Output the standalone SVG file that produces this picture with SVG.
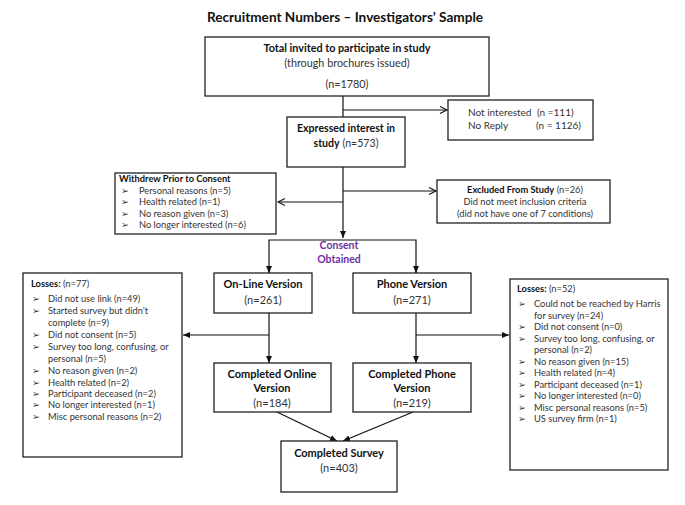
<svg xmlns="http://www.w3.org/2000/svg" width="685" height="505" viewBox="0 0 685 505">
<style>
text{font-family:Lato,"Liberation Sans",sans-serif;fill:#333;font-size:10px}
.b{font-weight:bold;fill:#111}
.t{font-weight:bold;fill:#111;font-size:13.6px}
.c{text-anchor:middle}
.p{font-weight:bold;fill:#7030a0}
.bl{font-family:"DejaVu Sans",sans-serif;font-size:9.5px;fill:#333}
.s{font-size:9.3px}
rect{fill:#fff;stroke:#222;stroke-width:1.3}
.ln{fill:none;stroke:#111;stroke-width:1.2}
</style>
<defs>
<marker id="f" markerWidth="8" markerHeight="8" refX="7" refY="4" orient="auto" markerUnits="userSpaceOnUse"><path d="M0,1 L7,4 L0,7 Z" fill="#111"/></marker>
<marker id="o" markerWidth="10" markerHeight="10" refX="8" refY="4" orient="auto" markerUnits="userSpaceOnUse"><path d="M1,0.5 L8,4 L1,7.5" fill="none" stroke="#111" stroke-width="1.1"/></marker>
</defs>
<rect width="685" height="505" style="fill:#fff;stroke:none"/>
<text class="t c" x="345" y="22">Recruitment Numbers – Investigators’ Sample</text>

<g id="connectors">
<path class="ln" d="M343,96 V117"/>
<path class="ln" d="M343,110 H447" marker-end="url(#o)"/>
<path class="ln" d="M343,167 V238" marker-end="url(#f)"/>
<path class="ln" d="M343,191 H436" marker-end="url(#o)"/>
<path class="ln" d="M343,202 H278" marker-end="url(#o)"/>
<path class="ln" d="M269,273 V240 H416 V273"/>
<path class="ln" d="M269,266 V273" marker-end="url(#f)"/>
<path class="ln" d="M416,266 V273" marker-end="url(#f)"/>
<path class="ln" d="M269,313 V363" marker-end="url(#f)"/>
<path class="ln" d="M416,313 V363" marker-end="url(#f)"/>
<path class="ln" d="M269,335 H183" marker-end="url(#f)"/>
<path class="ln" d="M416,335 H509" marker-end="url(#f)"/>
<path class="ln" d="M277,412 L337,441" marker-end="url(#f)"/>
<path class="ln" d="M413,412 L343,441" marker-end="url(#f)"/>
</g>

<g id="total">
<rect x="205" y="37" width="284" height="59"/>
<text class="b c" x="347" y="52" style="font-size:10.8px">Total invited to participate in study</text>
<text class="c" x="347" y="67" style="font-size:10.8px">(through brochures issued)</text>
<text class="c" x="347" y="88" style="font-size:10.8px">(n=1780)</text>
</g>

<g id="notinterested">
<rect x="448" y="100" width="145" height="40"/>
<text x="468" y="116">Not interested</text><text x="537" y="116">(n =111)</text>
<text x="468" y="129">No Reply</text><text x="536" y="129">(n = 1126)</text>
</g>

<g id="expressed">
<rect x="287" y="117" width="118" height="50"/>
<text class="b c" x="346" y="132" style="font-size:10.6px">Expressed interest in</text>
<text class="c" x="346" y="147" style="font-size:10.6px"><tspan class="b">study</tspan> (n=573)</text>
</g>

<g id="withdrew">
<rect x="115" y="173" width="161" height="61"/>
<text class="b s" x="119" y="182">Withdrew Prior to Consent</text>
<text class="bl" x="121" y="194">➢</text><text class="s" x="139" y="194">Personal reasons (n=5)</text>
<text class="bl" x="121" y="205">➢</text><text class="s" x="139" y="205">Health related (n=1)</text>
<text class="bl" x="121" y="217">➢</text><text class="s" x="139" y="217">No reason given (n=3)</text>
<text class="bl" x="121" y="228">➢</text><text class="s" x="139" y="228">No longer interested (n=6)</text>
</g>

<g id="excluded">
<rect x="437" y="180" width="173" height="43"/>
<text class="c s" x="525" y="193"><tspan class="b">Excluded From Study</tspan> (n=26)</text>
<text class="c s" x="525" y="205">Did not meet inclusion criteria</text>
<text class="c s" x="525" y="217">(did not have one of 7 conditions)</text>
</g>

<g id="consent">
<text class="p c" x="339" y="249" style="font-size:10.5px">Consent</text>
<text class="p c" x="339" y="263" style="font-size:10.5px">Obtained</text>
</g>

<g id="online">
<rect x="214" y="273" width="98" height="40"/>
<text class="b c" x="263" y="288" style="font-size:11px">On-Line Version</text>
<text class="c" x="263" y="304" style="font-size:11px">(n=261)</text>
</g>

<g id="phone">
<rect x="353" y="273" width="118" height="40"/>
<text class="b c" x="412" y="288" style="font-size:11px">Phone Version</text>
<text class="c" x="412" y="304" style="font-size:11px">(n=271)</text>
</g>

<g id="losses-left">
<rect x="23" y="273" width="159" height="184"/>
<text class="s" x="31" y="287"><tspan class="b">Losses:</tspan> (n=77)</text>
<text class="bl" x="32" y="302">➢</text><text class="s" x="48" y="302">Did not use link (n=49)</text>
<text class="bl" x="32" y="314">➢</text><text class="s" x="48" y="314">Started survey but didn’t</text>
<text class="s" x="48" y="326">complete (n=9)</text>
<text class="bl" x="32" y="338">➢</text><text class="s" x="48" y="338">Did not consent (n=5)</text>
<text class="bl" x="32" y="350">➢</text><text class="s" x="48" y="350">Survey too long, confusing, or</text>
<text class="s" x="48" y="362">personal (n=5)</text>
<text class="bl" x="32" y="374">➢</text><text class="s" x="48" y="374">No reason given (n=2)</text>
<text class="bl" x="32" y="386">➢</text><text class="s" x="48" y="386">Health related (n=2)</text>
<text class="bl" x="32" y="397">➢</text><text class="s" x="48" y="397">Participant deceased (n=2)</text>
<text class="bl" x="32" y="408">➢</text><text class="s" x="48" y="408">No longer interested (n=1)</text>
<text class="bl" x="32" y="420">➢</text><text class="s" x="48" y="420">Misc personal reasons (n=2)</text>
</g>

<g id="losses-right">
<rect x="510" y="279" width="158" height="191"/>
<text class="s" x="517" y="292"><tspan class="b">Losses:</tspan> (n=52)</text>
<text class="bl" x="518" y="307">➢</text><text class="s" x="534" y="307">Could not be reached by Harris</text>
<text class="s" x="534" y="319">for survey (n=24)</text>
<text class="bl" x="518" y="330">➢</text><text class="s" x="534" y="330">Did not consent (n=0)</text>
<text class="bl" x="518" y="342">➢</text><text class="s" x="534" y="342">Survey too long,  confusing, or</text>
<text class="s" x="534" y="353">personal (n=2)</text>
<text class="bl" x="518" y="365">➢</text><text class="s" x="534" y="365">No reason given (n=15)</text>
<text class="bl" x="518" y="376">➢</text><text class="s" x="534" y="376">Health related (n=4)</text>
<text class="bl" x="518" y="388">➢</text><text class="s" x="534" y="388">Participant deceased (n=1)</text>
<text class="bl" x="518" y="399">➢</text><text class="s" x="534" y="399">No longer interested (n=0)</text>
<text class="bl" x="518" y="411">➢</text><text class="s" x="534" y="411">Misc personal reasons (n=5)</text>
<text class="bl" x="518" y="422">➢</text><text class="s" x="534" y="422">US survey firm (n=1)</text>
</g>

<g id="completed-online">
<rect x="214" y="363" width="117" height="49"/>
<text class="b c" x="272" y="378" style="font-size:11px">Completed Online</text>
<text class="b c" x="272" y="392" style="font-size:11px">Version</text>
<text class="c" x="272" y="407" style="font-size:11px">(n=184)</text>
</g>

<g id="completed-phone">
<rect x="353" y="363" width="118" height="49"/>
<text class="b c" x="412" y="378" style="font-size:11px">Completed Phone</text>
<text class="b c" x="412" y="392" style="font-size:11px">Version</text>
<text class="c" x="412" y="407" style="font-size:11px">(n=219)</text>
</g>

<g id="completed-survey">
<rect x="281" y="441" width="116" height="51"/>
<text class="b c" x="339" y="457" style="font-size:11px">Completed Survey</text>
<text class="c" x="339" y="472" style="font-size:11px">(n=403)</text>
</g>
</svg>
